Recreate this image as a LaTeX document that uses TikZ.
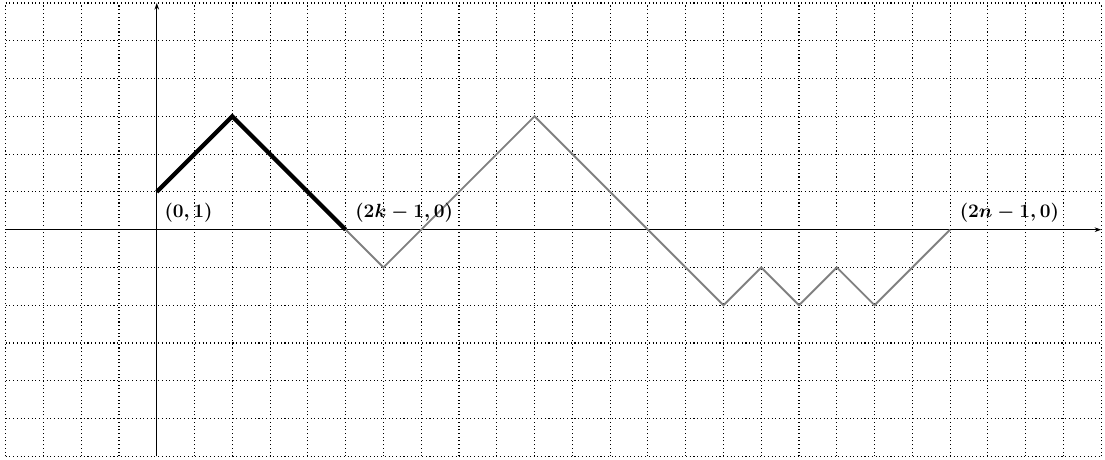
\documentclass[tikz,border=0pt]{standalone}
\usetikzlibrary{arrows.meta}
\begin{document}
\begin{tikzpicture}[x=1cm,y=1cm,
  gridline/.style={dotted,line width=0.8pt},
  axisline/.style={line width=0.6pt,-{Stealth[length=5pt,width=3.5pt]}},
  firstpath/.style={line width=3.2pt,black},
  restpath/.style={line width=1.4pt,gray},
  ptlabel/.style={font=\boldmath\fontsize{13.4}{16}\selectfont,inner sep=0pt,anchor=west}]
\useasboundingbox (-4.15,-6.08) rectangle (25.1,6.08);
\draw[gridline] (-4,-6) grid (25,6);
\coordinate (ox) at (-4,0);
\coordinate (ex) at (25,0);
\coordinate (oy) at (0,-6);
\coordinate (ey) at (0,6);
\draw[axisline] (ox) -- (ex);
\draw[axisline] (oy) -- (ey);
\coordinate (a0) at (0,1);
\coordinate (a1) at (2,3);
\coordinate (a2) at (5,0);
\coordinate (b1) at (6,-1);
\coordinate (b2) at (10,3);
\coordinate (b3) at (15,-2);
\coordinate (b4) at (16,-1);
\coordinate (b5) at (17,-2);
\coordinate (b6) at (18,-1);
\coordinate (b7) at (19,-2);
\coordinate (b8) at (21,0);
\draw[restpath,line join=miter] (a2) -- (b1) -- (b2) -- (b3) -- (b4) -- (b5) -- (b6) -- (b7) -- (b8);
\draw[firstpath,line join=miter] (a0) -- (a1) -- (a2);
\node[ptlabel] (l0) at ([shift={(0.2,-0.55)}]a0) {$(0,1)$};
\node[ptlabel] (l1) at ([shift={(0.25,0.45)}]a2) {$(2k-1,0)$};
\node[ptlabel] (l2) at ([shift={(0.25,0.45)}]b8) {$(2n-1,0)$};
\end{tikzpicture}
\end{document}
